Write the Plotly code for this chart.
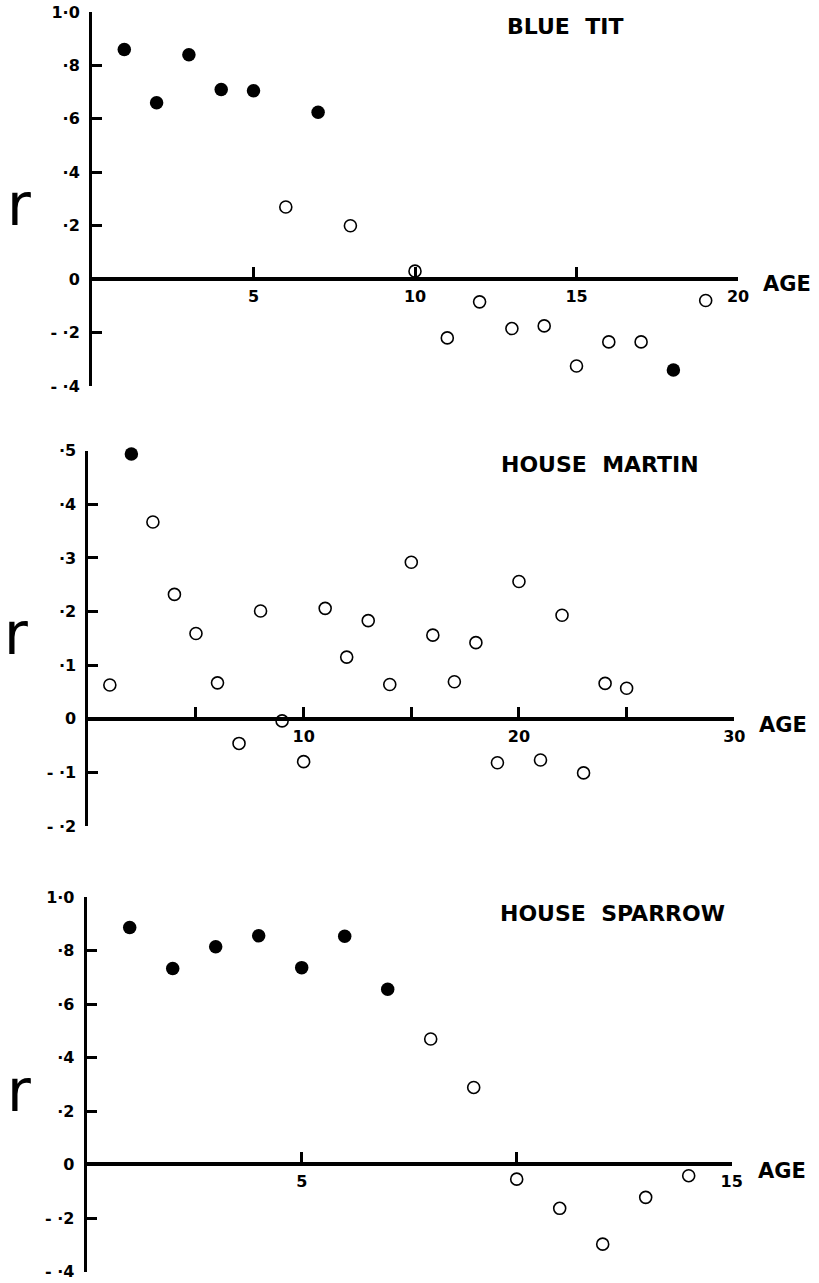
import plotly.graph_objects as go

# ---------------- data ----------------
# Blue tit
bt_age = [1, 2, 3, 4, 5, 6, 7, 8, 10, 11, 12, 13, 14, 15, 16, 17, 18, 19]
bt_r = [0.86, 0.66, 0.84, 0.71, 0.705, 0.27, 0.625, 0.20, 0.03, -0.22, -0.085,
        -0.185, -0.175, -0.325, -0.235, -0.235, -0.34, -0.08]
bt_sig = [1, 1, 1, 1, 1, 0, 1, 0, 0, 0, 0, 0, 0, 0, 0, 0, 1, 0]

# House martin
hm_age = list(range(1, 26))
hm_r = [0.063, 0.494, 0.367, 0.232, 0.159, 0.067, -0.046, 0.201, -0.004, -0.080,
        0.206, 0.115, 0.183, 0.064, 0.292, 0.156, 0.069, 0.142, -0.082, 0.256,
        -0.077, 0.193, -0.101, 0.066, 0.057]
hm_sig = [0, 1] + [0] * 23

# House sparrow
hs_age = list(range(1, 15))
hs_r = [0.887, 0.734, 0.815, 0.856, 0.737, 0.854, 0.656, 0.470, 0.289, -0.054,
        -0.163, -0.297, -0.122, -0.041]
hs_sig = [1, 1, 1, 1, 1, 1, 1, 0, 0, 0, 0, 0, 0, 0]

titles = ["BLUE  TIT", "HOUSE  MARTIN", "HOUSE  SPARROW"]

bt_xtickvals = [5, 10, 15, 20]
bt_xticktext = ["5", "10", "15", "20"]
hm_xtickvals = [5, 10, 15, 20, 25, 30]
hm_xticktext = ["", "10", "", "20", "", "30"]
hs_xtickvals = [5, 10, 15]
hs_xticktext = ["5", "", "15"]

bt_ytickvals = [1.0, 0.8, 0.6, 0.4, 0.2, 0, -0.2, -0.4]
bt_yticktext = ["1·0", "·8", "·6", "·4", "·2", "0", "- ·2", "- ·4"]
hm_ytickvals = [0.5, 0.4, 0.3, 0.2, 0.1, 0, -0.1, -0.2]
hm_yticktext = ["·5", "·4", "·3", "·2", "·1", "0", "- ·1", "- ·2"]
hs_ytickvals = bt_ytickvals
hs_yticktext = bt_yticktext

# ---------------- layout helpers ----------------
W, H = 819, 1283


def fx(p):
    return p / W


def fy(p):
    return 1 - p / H


panels = [
    dict(age=bt_age, r=bt_r, sig=bt_sig, xr=[0, 20], yr=[-0.4, 1.0],
         xpx=(92, 738), ypx=(12, 386), zero=279,
         xtv=bt_xtickvals, xtt=bt_xticktext, ytv=bt_ytickvals, ytt=bt_yticktext,
         title_xy=(565, 26), age_xy=(787, 284), r_xy=(19, 205)),
    dict(age=hm_age, r=hm_r, sig=hm_sig, xr=[0, 30], yr=[-0.2, 0.5],
         xpx=(88.3, 734.3), ypx=(450.7, 826), zero=718.7,
         xtv=hm_xtickvals, xtt=hm_xticktext, ytv=hm_ytickvals, ytt=hm_yticktext,
         title_xy=(600, 465), age_xy=(783, 725), r_xy=(16, 634)),
    dict(age=hs_age, r=hs_r, sig=hs_sig, xr=[0, 15], yr=[-0.4, 1.0],
         xpx=(86.7, 731.7), ypx=(897.3, 1271.7), zero=1164,
         xtv=hs_xtickvals, xtt=hs_xticktext, ytv=hs_ytickvals, ytt=hs_yticktext,
         title_xy=(612, 913), age_xy=(782, 1171), r_xy=(19, 1091)),
]

fig = go.Figure()
tickfont = dict(family="DejaVu Sans", size=16, color="black", weight="bold")
annotations = []

for i, p in enumerate(panels):
    n = "" if i == 0 else str(i + 1)
    xa, ya = "x" + n, "y" + n
    filled_x = [a for a, s in zip(p["age"], p["sig"]) if s]
    filled_y = [v for v, s in zip(p["r"], p["sig"]) if s]
    open_x = [a for a, s in zip(p["age"], p["sig"]) if not s]
    open_y = [v for v, s in zip(p["r"], p["sig"]) if not s]
    fig.add_trace(go.Scatter(x=open_x, y=open_y, mode="markers", xaxis=xa, yaxis=ya,
                             cliponaxis=False, showlegend=False,
                             marker=dict(symbol="circle-open", size=12, color="black",
                                         line=dict(width=1.6, color="black"))))
    fig.add_trace(go.Scatter(x=filled_x, y=filled_y, mode="markers", xaxis=xa, yaxis=ya,
                             cliponaxis=False, showlegend=False,
                             marker=dict(symbol="circle", size=13.5, color="black",
                                         line=dict(width=0))))
    fig.layout["xaxis" + n] = dict(
        domain=[fx(p["xpx"][0]), fx(p["xpx"][1])], range=p["xr"],
        anchor="free", position=fy(p["zero"]), side="bottom", automargin=False,
        showline=True, linewidth=4, linecolor="black", showgrid=False, zeroline=False,
        ticks="inside", ticklen=10, tickwidth=2.5, tickcolor="black",
        tickmode="array", tickvals=p["xtv"], ticktext=p["xtt"],
        tickfont=tickfont, ticklabelstandoff=2,
        ticklabeloverflow="allow", fixedrange=True)
    fig.layout["yaxis" + n] = dict(
        domain=[fy(p["ypx"][1]), fy(p["ypx"][0])], range=p["yr"],
        anchor=xa, automargin=False, showline=True, linewidth=3, linecolor="black",
        showgrid=False, zeroline=False,
        ticks="inside", ticklen=10, tickwidth=2.5, tickcolor="black",
        tickmode="array", tickvals=p["ytv"], ticktext=p["ytt"],
        tickfont=tickfont, ticklabelstandoff=6, ticklabeloverflow="allow",
        fixedrange=True)
    annotations.append(dict(text=titles[i], x=fx(p["title_xy"][0]), y=fy(p["title_xy"][1]),
                            xref="paper", yref="paper", showarrow=False,
                            xanchor="center", yanchor="middle",
                            font=dict(family="DejaVu Sans", size=22, color="black",
                                      weight="bold")))
    annotations.append(dict(text="AGE", x=fx(p["age_xy"][0]), y=fy(p["age_xy"][1]),
                            xref="paper", yref="paper", showarrow=False,
                            xanchor="center", yanchor="middle",
                            font=dict(family="DejaVu Sans", size=21, color="black",
                                      weight="bold")))
    annotations.append(dict(text="r", x=fx(p["r_xy"][0]), y=fy(p["r_xy"][1]),
                            xref="paper", yref="paper", showarrow=False,
                            xanchor="center", yanchor="middle",
                            font=dict(family="DejaVu Sans", size=58, color="black")))

fig.update_layout(width=W, height=H, margin=dict(l=0, r=0, t=0, b=0, autoexpand=False),
                  paper_bgcolor="white", plot_bgcolor="white",
                  annotations=annotations, showlegend=False)

# remove the browser's default 8px body margin so the figure fills the window
fig.write_html("out.html", config={"displayModeBar": False},
               post_script="document.body.style.margin='0px';")
